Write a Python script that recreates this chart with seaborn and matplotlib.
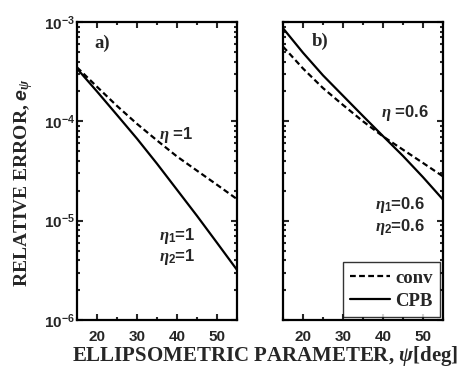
import numpy as np
import pandas as pd
import matplotlib
matplotlib.use("Agg")
import matplotlib.pyplot as plt
import seaborn as sns
from matplotlib.ticker import MultipleLocator, LogLocator, NullFormatter

# ---- data ----
psi = [15, 20, 25, 30, 35, 40, 45, 50, 55]
a_conv = [3.5e-4, 2.23e-4, 1.43e-4, 9.44e-5, 6.43e-5, 4.43e-5, 3.19e-5, 2.30e-5, 1.65e-5]
a_cpb = [3.4e-4, 2.0e-4, 1.16e-4, 6.7e-5, 3.75e-5, 2.05e-5, 1.12e-5, 6.0e-6, 3.2e-6]
b_conv = [5.65e-4, 3.4e-4, 2.16e-4, 1.46e-4, 1.0e-4, 7.05e-5, 5.18e-5, 3.81e-5, 2.79e-5]
b_cpb = [8.65e-4, 4.9e-4, 2.9e-4, 1.81e-4, 1.13e-4, 7.1e-5, 4.48e-5, 2.74e-5, 1.63e-5]
series_names = ["conv", "CPB"]
xticks = [20, 30, 40, 50]

sns.set_style("ticks")
plt.rcParams.update({
    "font.family": ["Liberation Sans", "DejaVu Sans"],
    "font.weight": "bold",
    "mathtext.fontset": "custom",
    "mathtext.it": "Liberation Serif:italic",
    "mathtext.rm": "Liberation Sans:bold",
    "mathtext.bf": "Liberation Sans:bold",
    "mathtext.sf": "Liberation Sans:bold:italic",
})

def long(conv, cpb):
    return pd.DataFrame({
        "psi": psi * 2,
        "err": list(conv) + list(cpb),
        "kind": [series_names[0]] * len(psi) + [series_names[1]] * len(psi),
    })

fig = plt.figure(figsize=(4.61, 3.73), dpi=100)
axL = fig.add_axes([0.167, 0.142, 0.347, 0.799])
axR = fig.add_axes([0.614, 0.142, 0.347, 0.799])

for ax, (conv, cpb) in zip([axL, axR], [(a_conv, a_cpb), (b_conv, b_cpb)]):
    df = long(conv, cpb)
    sns.lineplot(data=df, x="psi", y="err", style="kind",
                 style_order=series_names,
                 dashes={"conv": (2.6, 1.5), "CPB": ""},
                 color="black", linewidth=1.6, ax=ax, legend=(ax is axR))
    ax.set_yscale("log")
    ax.set_xlim(15, 55)
    ax.set_ylim(1e-6, 1e-3)
    ax.set_xticks(xticks)
    ax.xaxis.set_minor_locator(MultipleLocator(5))
    ax.yaxis.set_minor_locator(LogLocator(base=10, subs=np.arange(2, 10)))
    ax.yaxis.set_minor_formatter(NullFormatter())
    ax.tick_params(which="both", direction="in", top=True, right=True,
                   width=1.5, labelsize=11)
    ax.tick_params(axis="x", which="major", pad=7)
    ax.tick_params(axis="y", which="major", pad=1.5)
    ax.tick_params(which="major", length=4.5)
    ax.tick_params(which="minor", length=2.5)
    for s in ax.spines.values():
        s.set_linewidth(1.6)
        s.set_color("black")
    ax.set_xlabel("")
    ax.set_ylabel("")

axR.tick_params(axis="y", which="both", labelleft=False)

serif_b = dict(family="Liberation Serif", weight="bold")

# panel letters
axL.text(0.11, 0.93, "a)", transform=axL.transAxes, fontsize=13.5, va="center", ha="left", **serif_b)
axR.text(0.18, 0.935, "b)", transform=axR.transAxes, fontsize=13.5, va="center", ha="left", **serif_b)

# annotations
axL.text(35.5, 7.3e-5, r"$\eta$ =1", fontsize=12, ha="left", va="center")
axL.text(35.5, 7.0e-6, r"$\eta_{\mathbf{1}}$=1", fontsize=12, ha="left", va="center")
axL.text(35.5, 4.3e-6, r"$\eta_{\mathbf{2}}$=1", fontsize=12, ha="left", va="center")
axR.text(39.5, 1.2e-4, r"$\eta$ =0.6", fontsize=12, ha="left", va="center")
axR.text(38.0, 1.45e-5, r"$\eta_{\mathbf{1}}$=0.6", fontsize=12, ha="left", va="center")
axR.text(38.0, 8.6e-6, r"$\eta_{\mathbf{2}}$=0.6", fontsize=12, ha="left", va="center")

# legend
leg = axR.get_legend()
handles, labels = axR.get_legend_handles_labels()
leg.remove()
leg = axR.legend(handles, labels, loc="lower right", frameon=True, fancybox=False,
                 prop=dict(family="Liberation Serif", weight="bold", size=13.5),
                 handlelength=2.1, handletextpad=0.3, borderaxespad=0.15,
                 borderpad=0.4, labelspacing=0.3)
leg.get_frame().set_edgecolor("black")
leg.get_frame().set_linewidth(1.0)
for h in leg.get_lines():
    h.set_color("black")
    h.set_linewidth(1.6)

# axis labels
fig.text(0.052, 0.512, r"RELATIVE ERROR, $\mathsf{e}_{\psi}$", rotation=90,
         ha="center", va="center", fontsize=14, **serif_b)
fig.text(0.575, 0.045, r"ELLIPSOMETRIC PARAMETER, $\psi$[deg]",
         ha="center", va="center", fontsize=15, **serif_b)

fig.savefig("out.png", dpi=100)
